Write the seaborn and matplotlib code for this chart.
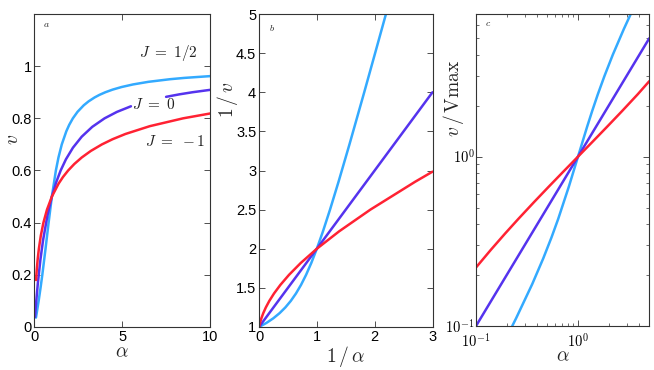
import numpy as np
import pandas as pd
import matplotlib
matplotlib.use("Agg")
import matplotlib.pyplot as plt
import seaborn as sns
from matplotlib.ticker import FixedLocator, FixedFormatter, NullFormatter

# ---------------- data ----------------
labels = ["J = 1/2", "J = 0", "J = -1"]
colors = {"J = 1/2": "#33aaff", "J = 0": "#5533ee", "J = -1": "#ff2233"}

# panel a : v vs alpha
a_half_alpha = [0.094, 0.129, 0.247, 0.355, 0.456, 0.639, 0.814, 1.0, 1.228, 1.376, 1.564, 1.820,
                1.987, 2.195, 2.461, 2.814, 3.088, 3.430, 3.709, 4.044, 4.453, 4.965, 5.623,
                6.499, 7.725, 8.542, 10.0]
a_half_v = [0.036, 0.05, 0.10, 0.15, 0.20, 0.30, 0.40, 0.50, 0.60, 0.65, 0.70, 0.75,
            0.775, 0.80, 0.825, 0.85, 0.865, 0.88, 0.89, 0.90, 0.91, 0.92, 0.93,
            0.94, 0.95, 0.955, 0.9618]
a_zero_alpha = [0.04, 0.1, 0.2, 0.35, 0.5, 0.75, 1.0, 1.25, 1.5, 1.8, 2.2, 2.7, 3.3, 4.0, 4.7, 5.5,
                7.5, 8.25, 9.0, 10.0]
a_zero_v = [0.0385, 0.0909, 0.1667, 0.2593, 0.3333, 0.4286, 0.5, 0.5556, 0.6, 0.6429, 0.6875,
            0.7297, 0.7674, 0.8, 0.8246, 0.8462,
            0.8824, 0.8919, 0.9, 0.9091]
a_zero_seg = [0] * 16 + [1] * 4
a_neg_alpha = [0.0986, 0.1401, 0.1928, 0.2599, 0.3701, 0.5192, 0.7220, 1.0, 1.385, 1.632, 1.926,
               2.278, 2.702, 3.217, 3.847, 4.457, 5.186, 6.575, 8.468, 10.0]
a_neg_v = [0.18, 0.22, 0.26, 0.30, 0.35, 0.40, 0.45, 0.50, 0.55, 0.575, 0.60,
           0.625, 0.65, 0.675, 0.70, 0.72, 0.74, 0.77, 0.80, 0.8185]

# panel b : 1/v vs 1/alpha
b_half_x = [0.0, 0.1295, 0.2473, 0.3554, 0.4555, 0.5496, 0.6394, 0.7269, 0.8143, 0.9042, 1.0,
            1.1059, 1.2281, 1.3757, 1.564, 1.8196, 2.0249, 2.1952]
b_half_y = [1.0, 1.0526, 1.1111, 1.1765, 1.25, 1.3333, 1.4286, 1.5385, 1.6667, 1.8182, 2.0,
            2.2222, 2.5, 2.8571, 3.3333, 4.0, 4.5455, 5.0]
b_zero_x = [0.0, 1.0, 2.0, 3.0]
b_zero_y = [1.0, 2.0, 3.0, 4.0]
b_neg_x = [0.0, 0.00615, 0.01709, 0.04088, 0.07357, 0.1181, 0.1784, 0.2599, 0.3701, 0.5192,
           0.7220, 1.0, 1.385, 1.926, 2.702, 3.0]
b_neg_y = [1.0, 1.0204, 1.0526, 1.1111, 1.1765, 1.25, 1.3333, 1.4286, 1.5385, 1.6667,
           1.8182, 2.0, 2.2222, 2.5, 2.8571, 2.985]

# panel c : v/Vmax vs alpha (log-log)
c_half_alpha = [0.2267, 0.2473, 0.3554, 0.4555, 0.5496, 0.6394, 0.8143, 1.0, 1.228, 1.376,
                1.564, 1.820, 2.195, 2.814, 3.307]
c_half_y = [0.1, 0.1111, 0.1765, 0.25, 0.3333, 0.4286, 0.6667, 1.0, 1.5, 1.857,
            2.333, 3.0, 4.0, 5.667, 7.0]
c_zero_alpha = [0.1, 1.0, 5.0]
c_zero_y = [0.1, 1.0, 5.0]
c_neg_alpha = [0.1, 0.1401, 0.1928, 0.2599, 0.3701, 0.5192, 0.7220, 1.0, 1.385, 1.926, 2.702,
               3.847, 5.0]
c_neg_y = [0.2215, 0.2821, 0.3514, 0.4286, 0.5385, 0.6667, 0.8182, 1.0, 1.2222, 1.5, 1.857,
           2.333, 2.79]

a_yticks = [0, 0.2, 0.4, 0.6, 0.8, 1.0]
a_yticklabels = ["0", "0.2", "0.4", "0.6", "0.8", "1"]
a_xticks = [0, 5, 10]
b_yticks = [1, 1.5, 2, 2.5, 3, 3.5, 4, 4.5, 5]
b_yticklabels = ["1", "1.5", "2", "2.5", "3", "3.5", "4", "4.5", "5"]
b_xticks = [0, 1, 2, 3]

# ---------------- style ----------------
sns.set_theme(style="ticks")
plt.rcParams["font.family"] = ["Liberation Sans", "DejaVu Sans"]
plt.rcParams["mathtext.fontset"] = "cm"
plt.rcParams["axes.edgecolor"] = "#333333"
plt.rcParams["axes.linewidth"] = 0.8

fig = plt.figure(figsize=(6.54, 3.70), dpi=100)
H = 370.0
W = 654.0
def add_axes(left, right, top, bottom):
    return fig.add_axes([left / W, (H - bottom) / H, (right - left) / W, (bottom - top) / H])

axA = add_axes(34.3, 210.0, 14.0, 327.0)
axB = add_axes(259.0, 432.5, 14.0, 327.0)
axC = add_axes(476.0, 649.3, 13.5, 326.0)

lw = 1.8

def line(ax, x, y, color, units=None):
    df = pd.DataFrame({"x": x, "y": y})
    if units is not None:
        df["u"] = units
        sns.lineplot(data=df, x="x", y="y", units="u", estimator=None, sort=False,
                     color=color, lw=lw, ax=ax)
    else:
        sns.lineplot(data=df, x="x", y="y", estimator=None, sort=False,
                     color=color, lw=lw, ax=ax)

# panel a
line(axA, a_half_alpha, a_half_v, colors["J = 1/2"])
line(axA, a_zero_alpha, a_zero_v, colors["J = 0"], units=a_zero_seg)
line(axA, a_neg_alpha, a_neg_v, colors["J = -1"])
axA.set_xlim(0, 10)
axA.set_ylim(0, 1.2)
axA.yaxis.set_major_locator(FixedLocator(a_yticks))
axA.yaxis.set_major_formatter(FixedFormatter(a_yticklabels))
axA.xaxis.set_major_locator(FixedLocator(a_xticks))
axA.set_xticklabels([str(t) for t in a_xticks])
axA.set_xlabel(r"$\alpha$", fontsize=14, labelpad=0)
axA.set_ylabel(r"$v$", fontsize=14, va="center")
axA.yaxis.set_label_coords(-0.121, 0.60)
axA.text(7.61, 1.051, r"$J\ =\ 1/2$", fontsize=11, ha="center", va="center", color="#222222")
axA.text(6.81, 0.853, r"$J\ =\ 0$", fontsize=11, ha="center", va="center", color="#222222")
axA.text(8.0, 0.713, r"$J\ =\ -1$", fontsize=11, ha="center", va="center", color="#222222")
axA.text(0.05, 0.985, r"$a$", transform=axA.transAxes, fontsize=7, ha="left", va="top")

# panel b
line(axB, b_half_x, b_half_y, colors["J = 1/2"])
line(axB, b_zero_x, b_zero_y, colors["J = 0"])
line(axB, b_neg_x, b_neg_y, colors["J = -1"])
axB.set_xlim(0, 3)
axB.set_ylim(1, 5)
axB.yaxis.set_major_locator(FixedLocator(b_yticks))
axB.yaxis.set_major_formatter(FixedFormatter(b_yticklabels))
axB.xaxis.set_major_locator(FixedLocator(b_xticks))
axB.set_xticklabels([str(t) for t in b_xticks])
axB.set_xlabel(r"$1\,/\,\alpha$", fontsize=14, labelpad=0)
axB.set_ylabel(r"$1\,/\,v$", fontsize=14, va="center")
axB.yaxis.set_label_coords(-0.184, 0.725)
axB.text(0.06, 0.97, r"$b$", transform=axB.transAxes, fontsize=7, ha="left", va="top")

# panel c
line(axC, c_half_alpha, c_half_y, colors["J = 1/2"])
line(axC, c_zero_alpha, c_zero_y, colors["J = 0"])
line(axC, c_neg_alpha, c_neg_y, colors["J = -1"])
axC.set_xscale("log")
axC.set_yscale("log")
axC.set_xlim(0.1, 5)
axC.set_ylim(0.1, 7)
axC.xaxis.set_major_locator(FixedLocator([0.1, 1.0]))
axC.xaxis.set_major_formatter(FixedFormatter([r"$\mathsf{10^{-1}}$", r"$\mathsf{10^{0}}$"]))
axC.xaxis.set_minor_locator(FixedLocator([0.2, 0.3, 0.4, 0.5, 0.6, 0.7, 0.8, 0.9, 2, 3, 4, 5]))
axC.xaxis.set_minor_formatter(NullFormatter())
axC.yaxis.set_major_locator(FixedLocator([0.1, 1.0]))
axC.yaxis.set_major_formatter(FixedFormatter([r"$\mathsf{10^{-1}}$", r"$\mathsf{10^{0}}$"]))
axC.yaxis.set_minor_locator(FixedLocator([0.2, 0.3, 0.4, 0.5, 0.6, 0.7, 0.8, 0.9, 2, 3, 4, 5, 6, 7]))
axC.yaxis.set_minor_formatter(NullFormatter())
axC.set_xlabel(r"$\alpha$", fontsize=14, labelpad=-2)
axC.set_ylabel(r"$v\,/\,\mathrm{Vmax}$", fontsize=14, va="center")
axC.yaxis.set_label_coords(-0.127, 0.73)
axC.text(0.05, 0.985, r"$c$", transform=axC.transAxes, fontsize=7, ha="left", va="top")

for ax in (axA, axB, axC):
    ax.tick_params(axis="both", which="major", direction="in", top=True, right=True,
                   length=4, width=0.6, labelsize=10.5, colors="#333333", labelcolor="black", pad=2)
    ax.tick_params(axis="both", which="minor", direction="in", top=True, right=True,
                   length=2.5, width=0.5, colors="#333333")
    for s in ax.spines.values():
        s.set_visible(True)
        s.set_color("#333333")
        s.set_linewidth(0.8)
axC.tick_params(axis="x", which="major", pad=5)
axC.tick_params(axis="y", which="major", pad=1)

fig.savefig("out.png", dpi=100)
